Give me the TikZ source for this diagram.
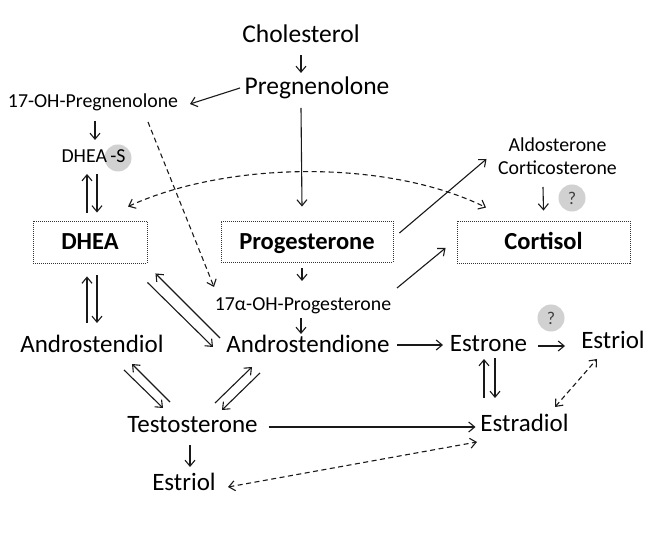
\documentclass[tikz,border=0pt]{standalone}
\usepackage{fontspec}
\setmainfont{Carlito}
\usetikzlibrary{arrows.meta,calc}
\begin{document}
\begin{tikzpicture}[x=1pt,y=-1pt,
  big/.style={inner sep=0pt,anchor=base,font=\fontsize{25}{29}\selectfont,text height=16pt,text depth=5pt},
  small/.style={inner sep=0pt,anchor=base,font=\fontsize{19.8}{23}\selectfont,text height=12pt,text depth=4pt},
  boxnode/.style={draw=black!80,line width=0.9pt,dash pattern=on 1pt off 1pt,inner sep=0pt,
    font=\bfseries\fontsize{24.5}{28}\selectfont,text height=16pt,text depth=0pt},
  qcirc/.style={fill=black!18,draw=none,circle,inner sep=0pt,minimum size=27pt,
    font=\fontsize{18}{20}\selectfont,text=black!75},
  arr/.style={draw=black!90,line width=1.1pt,-{Straight Barb[length=6pt,width=10pt]}},
  darr/.style={arr,dash pattern=on 5pt off 3.5pt},
  ddarr/.style={draw=black!90,line width=1.1pt,dash pattern=on 5pt off 3.5pt,
    {Straight Barb[length=6pt,width=10pt]}-{Straight Barb[length=6pt,width=10pt]}}
]
\useasboundingbox[fill=white] (0,0) rectangle (670,537);
% grey circles
\node[qcirc] (qs) at (118,158) {};
\node[qcirc] (q1) at (572,198) {?};
\node[qcirc] (q2) at (551,318) {?};
% nodes
\node[big,font=\fontsize{25.5}{29}\selectfont] (chol) at (301,43) {Cholesterol};
\node[big,font=\fontsize{25.5}{29}\selectfont] (preg) at (317,95) {Pregnenolone};
\node[small] (ohp) at (93,108) {17-OH-Pregnenolone};
\node[small] (dheas) at (93.5,163) {DHEA\,-S};
\node[boxnode,minimum width=114pt,minimum height=42pt] (dhea) at (90,242) {DHEA};
\node[boxnode,minimum width=172pt,minimum height=41pt] (prog) at (307,241.5) {Progesterone};
\node[boxnode,minimum width=173pt,minimum height=42pt] (cortisol) at (543.5,242) {Cortisol};
\node[small] (ald) at (557.5,152) {Aldosterone};
\node[small] (cortico) at (557.5,175) {Corticosterone};
\node[small] (ohprog) at (303,311) {17α-OH-Progesterone};
\node[big] (adione) at (308,353) {Androstendione};
\node[big] (adiol) at (92,353) {Androstendiol};
\node[big] (estrone) at (488.5,352) {Estrone};
\node[big] (estriolr) at (613,349) {Estriol};
\node[big] (test) at (192.5,433) {Testosterone};
\node[big] (estradiol) at (524.5,432) {Estradiol};
\node[big] (estriolb) at (184,490) {Estriol};
% connectors
\draw[arr] ($(chol.base)+(0,12)$) -- ($(preg.base)+(-16,-22)$);
\draw[arr] ($(preg.base)+(-77,-7)$) -- ($(ohp.base)+(97,-4)$);
\draw[arr] ($(ohp.base)+(2,13)$) -- ($(dheas.base)+(1.5,-23)$);
\draw[arr] ($(dhea.north)+(-3,-8)$) -- ($(dheas.base)+(-6.5,11)$);
\draw[arr] ($(dheas.base)+(3.5,11)$) -- ($(dhea.north)+(7,-8)$);
\draw[darr] ($(ohp.base)+(55,14)$) -- ($(ohprog.base)+(-89,-24)$);
\draw[ddarr] ($(dhea.north)+(38,-14)$) .. controls (230,160) and (390,160) .. ($(cortisol.north)+(-57.5,-13)$);
\draw[arr] ($(preg.base)+(-16,13)$) -- ($(prog.north)+(-5,-14)$);
\draw[arr] ($(prog.east)+(6,-8.5)$) -- ($(ald.base)+(-71,7)$);
\draw[arr] ($(cortico.base)+(-14.5,12)$) -- ($(cortisol.north)+(0,-10)$);
\draw[arr] ($(prog.south)+(-5,6)$) -- ($(ohprog.base)+(-1,-30)$);
\draw[arr] ($(ohprog.base)+(94,-23)$) -- ($(cortisol.west)+(-11,6)$);
\draw[arr] ($(ohprog.base)+(-2,7)$) -- ($(adione.base)+(-7,-19)$);
\draw[arr] ($(adiol.base)+(-5,-30)$) -- ($(dhea.south)+(-3,13)$);
\draw[arr] ($(dhea.south)+(7,12)$) -- ($(adiol.base)+(5,-30)$);
\draw[arr] ($(adione.base)+(-88,-15)$) -- ($(dhea.south east)+(8,10)$);
\draw[arr] ($(dhea.south east)+(0,19)$) -- ($(adione.base)+(-95,-6)$);
\draw[arr] ($(adiol.base)+(32,17)$) -- ($(test.base)+(-29.5,-25)$);
\draw[arr] ($(test.base)+(-22.5,-31)$) -- ($(adiol.base)+(40,11)$);
\draw[arr] ($(test.base)+(22.5,-30)$) -- ($(adione.base)+(-56,14)$);
\draw[arr] ($(adione.base)+(-48,20)$) -- ($(test.base)+(29.5,-23)$);
\draw[arr] ($(test.base)+(76,-6)$) -- ($(estradiol.base)+(-49,-5)$);
\draw[arr] ($(test.base)+(-2.5,12)$) -- ($(estriolb.base)+(6,-23)$);
\draw[ddarr] ($(estriolb.base)+(44,-3)$) -- ($(estradiol.base)+(-47.5,10)$);
\draw[arr] ($(adione.base)+(89,-8)$) -- ($(estrone.base)+(-45.5,-7)$);
\draw[arr] ($(estrone.base)+(49.5,-6)$) -- ($(estriolr.base)+(-48,-3)$);
\draw[arr] ($(estradiol.base)+(-40.5,-34)$) -- ($(estrone.base)+(-4.5,7)$);
\draw[arr] ($(estrone.base)+(6.5,6)$) -- ($(estradiol.base)+(-29.5,-34)$);
\draw[ddarr] ($(estradiol.base)+(30.5,-25)$) -- ($(estriolr.base)+(-16,10)$);
\end{tikzpicture}
\end{document}
